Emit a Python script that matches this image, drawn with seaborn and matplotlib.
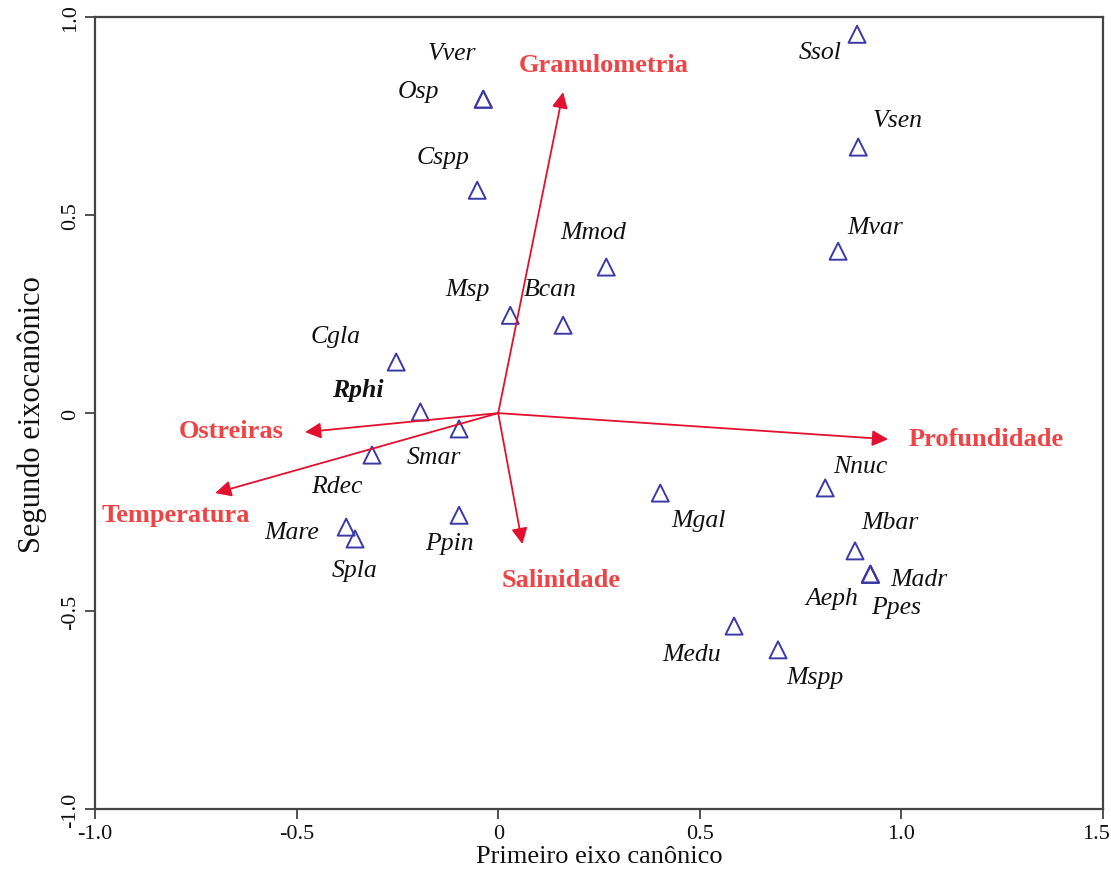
import matplotlib
matplotlib.use("Agg")
import matplotlib.pyplot as plt
import matplotlib.transforms as mtransforms
import seaborn as sns
import pandas as pd

# Species scores
species = ["Ssol", "Vver", "Osp", "Vsen", "Cspp", "Mvar", "Mmod", "Msp", "Bcan",
           "Cgla", "Rphi", "Smar", "Rdec", "Ppin", "Mare", "Spla", "Mgal", "Nnuc",
           "Mbar", "Madr", "Aeph", "Ppes", "Medu", "Mspp"]
axis1 = [0.890, -0.037, -0.037, 0.893, -0.052, 0.843, 0.268, 0.030, 0.161,
         -0.253, -0.193, -0.097, -0.313, -0.097, -0.377, -0.355, 0.402, 0.811,
         0.885, 0.923, 0.923, 0.923, 0.585, 0.694]
axis2 = [0.957, 0.793, 0.793, 0.672, 0.563, 0.409, 0.369, 0.247, 0.222,
         0.129, 0.003, -0.040, -0.106, -0.258, -0.288, -0.318, -0.202, -0.189,
         -0.348, -0.407, -0.407, -0.407, -0.538, -0.598]

# Environmental variable vectors
variables = ["Granulometria", "Profundidade", "Ostreiras", "Temperatura", "Salinidade"]
var_x = [0.161, 0.967, -0.479, -0.702, 0.060]
var_y = [0.811, -0.066, -0.048, -0.202, -0.331]

# Tick labels
xtick_vals = [-1.0, -0.5, 0, 0.5, 1.0, 1.5]
xtick_labels = ["-1.0", "-0.5", "0", "0.5", "1.0", "1.5"]
ytick_vals = [-1.0, -0.5, 0, 0.5, 1.0]
ytick_labels = ["-1.0", "-0.5", "0", "0.5", "1.0"]

# Label offsets (pixels) - layout only
sp_offsets = [(-37, -18), (-31, 46), (-65, 8), (39, 27), (-34, 33), (37, 24),
              (-13, 35), (-43, 26), (-13, 36), (-61, 26), (-63, 22), (-25, -28),
              (-35, -31), (-10, -28), (-55, -5), (0, -31), (38, -27), (35, 22),
              (35, 29), (49, -5), (-39, -24), (26, -33), (-42, -28), (37, -27)]
var_offsets = [(41, 28), (98, 1), (-74, 2), (-39, -21), (39, -35)]

sns.set_theme(style="white")
plt.rcParams["font.family"] = ["Liberation Serif", "DejaVu Serif"]

fig = plt.figure(figsize=(11.11, 8.70), dpi=100)
ax = fig.add_axes([0.0855, 0.069, 0.9073, 0.910])

df = pd.DataFrame({"x": axis1, "y": axis2, "sp": species})
sns.scatterplot(data=df, x="x", y="y", ax=ax, marker="^", s=150,
                facecolor="none", edgecolor="#3a3aa6", linewidth=1.4, zorder=3)

for name, x, y, (dx, dy) in zip(species, axis1, axis2, sp_offsets):
    ax.annotate(name, (x, y), xytext=(dx, dy), textcoords="offset pixels",
                ha="center", va="center", fontsize=18.5, style="italic",
                fontweight="bold" if name == "Rphi" else "normal", color="#111111")

for name, x, y, (dx, dy) in zip(variables, var_x, var_y, var_offsets):
    ax.annotate("", xy=(x, y), xytext=(0, 0),
                arrowprops=dict(arrowstyle="-|>", color="#e3112f", lw=1.3,
                                mutation_scale=24, shrinkA=0, shrinkB=0))
    ax.annotate(name, (x, y), xytext=(dx, dy), textcoords="offset pixels",
                ha="center", va="center", fontsize=19, fontweight="bold",
                color="#ef4446")

ax.set_xlim(-1.0, 1.5)
ax.set_ylim(-1.0, 1.0)
ax.set_xticks(xtick_vals)
ax.set_xticklabels(xtick_labels)
ax.set_yticks(ytick_vals)
ax.set_yticklabels(ytick_labels, rotation=90, va="center")
ax.tick_params(axis="both", direction="out", length=7, width=1.2, color="#333333",
               labelsize=16, labelcolor="#111111", bottom=True, left=True, pad=4)
# keep the last x tick label inside the figure
last = ax.get_xticklabels()[-1]
last.set_horizontalalignment("right")
last.set_transform(last.get_transform() +
                   mtransforms.ScaledTranslation(7 / 100, 0, fig.dpi_scale_trans))
for sp in ax.spines.values():
    sp.set_color("#444444")
    sp.set_linewidth(1.6)
ax.set_xlabel("Primeiro eixo canônico", fontsize=19, color="#111111", labelpad=1)
ax.set_ylabel("Segundo eixocanônico", fontsize=22, color="#111111", labelpad=10)
ax.grid(False)

fig.savefig("out.png", dpi=100)
